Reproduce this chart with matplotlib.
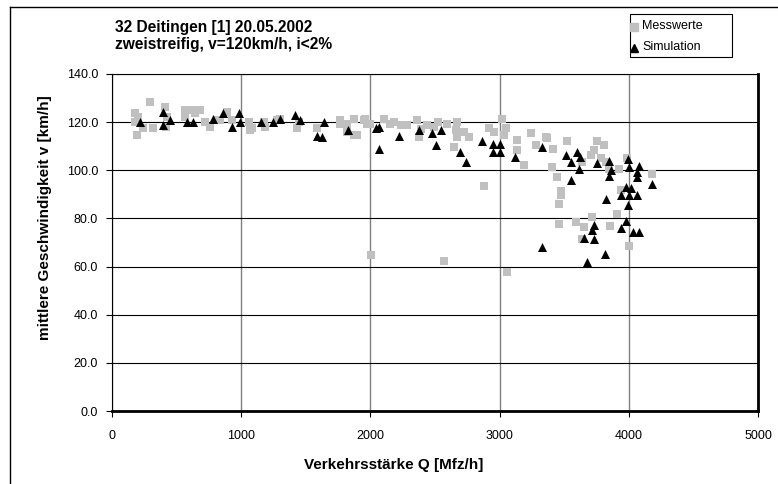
import matplotlib.pyplot as plt
from matplotlib.lines import Line2D
from matplotlib.patches import Rectangle

plt.rcParams['font.family'] = ['Liberation Sans', 'DejaVu Sans']

# Messwerte (gray squares): Q [Mfz/h], v [km/h]
mess_q = [178, 178, 191, 295, 242, 320, 411, 424, 420, 200, 566, 618, 682, 566, 643,
          721, 760, 811, 837, 889, 930, 1057, 1083, 1070, 1173, 1186, 1277, 1302,
          1432, 1445, 1587, 1767, 1767, 1819, 1819, 1871, 1871, 1897, 1948, 1961,
          1977, 2000, 2103, 2155, 2180, 2233, 2284, 2362, 2375, 2388, 2440, 2491,
          2520, 2594, 2672, 2659, 2672, 2723, 2762, 2646, 2917, 2960, 3020, 3047,
          3034, 3137, 3137, 3189, 3240, 3279, 3357, 3369, 3416, 3408, 3447, 3478,
          3460, 3519, 3641, 3752, 3809, 3731, 3705, 3783, 3822, 3847, 3925, 3984,
          4183, 3938, 3460, 3589, 3653, 3718, 3907, 3855, 3641, 4002, 3473, 2005,
          2568, 3054, 2878]
mess_v = [123.6, 120.0, 114.6, 128.5, 117.5, 117.5, 126.4, 122.0, 118.0, 122.0, 125.0,
          125.0, 125.0, 122.0, 124.0, 120.0, 118.0, 120.8, 120.8, 124.3, 121.0, 120.0,
          117.4, 116.7, 120.0, 118.0, 120.8, 121.5, 117.4, 120.0, 117.4, 120.8, 119.4,
          119.4, 116.0, 121.5, 114.6, 114.6, 120.8, 121.5, 119.4, 119.4, 121.5, 119.4,
          120.0, 118.8, 118.8, 120.8, 113.9, 117.0, 119.0, 118.0, 120.0, 119.4, 120.0,
          116.7, 113.9, 116.0, 113.9, 109.7, 117.4, 116.0, 121.5, 117.4, 114.6, 112.5,
          108.3, 102.0, 115.3, 110.4, 113.9, 113.5, 109.0, 101.4, 97.2, 91.2, 86.0,
          112.0, 103.5, 112.0, 110.7, 108.3, 106.3, 105.1, 103.5, 100.7, 100.4, 104.9,
          98.6, 91.7, 77.8, 78.5, 76.4, 80.5, 81.9, 76.7, 71.3, 68.5, 89.6, 64.6,
          62.5, 57.6, 93.3]

# Simulation (black triangles)
sim_q = [217, 398, 398, 450, 584, 630, 778, 858, 928, 985, 992, 1155, 1245, 1297,
         1416, 1457, 1643, 1584, 1622, 1830, 2043, 2070, 2070, 2220, 2376, 2473,
         2550, 2504, 2695, 2740, 2866, 2951, 3002, 2951, 3002, 3120, 3328, 3512,
         3602, 3550, 3620, 3615, 3757, 3847, 3860, 3847, 3550, 3996, 4002, 4080,
         4067, 4067, 4180, 3822, 3938, 3977, 4016, 4062, 4002, 3990, 3977, 3938,
         4036, 4080, 3731, 3718, 3653, 3731, 3816, 3674, 3331]
sim_v = [120.0, 124.3, 118.8, 120.8, 119.9, 119.9, 121.2, 123.6, 118.0, 123.6, 120.0,
         120.0, 120.0, 121.3, 122.9, 120.8, 120.0, 114.4, 114.0, 116.7, 117.6, 118.0,
         109.0, 114.4, 116.7, 115.4, 116.7, 110.4, 107.7, 103.5, 112.0, 111.1, 111.1,
         107.6, 107.6, 105.5, 109.7, 106.5, 107.4, 103.6, 105.6, 100.6, 102.9, 103.8,
         100.0, 97.5, 96.1, 104.5, 101.4, 101.6, 99.3, 97.2, 94.5, 88.2, 89.9, 93.0,
         92.6, 89.9, 89.9, 85.5, 78.8, 76.0, 74.3, 74.3, 77.4, 75.0, 71.8, 71.3,
         65.3, 62.1, 68.0]

x_ticks = [0, 1000, 2000, 3000, 4000, 5000]
y_ticks = [0, 20, 40, 60, 80, 100, 120, 140]

W, H = 778, 484
fig = plt.figure(figsize=(W / 100, H / 100), dpi=100)
ax = fig.add_axes([112 / W, 1 - 411 / H, (758 - 112) / W, (411 - 74) / H])

ax.scatter(mess_q, mess_v, marker='s', s=36, color='#c0c0c0', linewidths=0,
           zorder=3)
ax.scatter(sim_q, sim_v, marker='^', s=42, color='black', linewidths=0,
           zorder=4)

ax.set_xlim(0, 5000)
ax.set_ylim(0, 140)
ax.set_xticks(x_ticks)
ax.set_yticks(y_ticks)
ax.set_yticklabels(['%.1f' % v for v in y_ticks])
ax.tick_params(labelsize=9, length=4, width=0.8, color='black')
ax.tick_params(axis='x', pad=10)
ax.tick_params(axis='y', pad=6)
ax.grid(axis='y', color='black', linewidth=0.8)
ax.grid(axis='x', color='#808080', linewidth=1.0)
ax.set_axisbelow(True)
for side in ['top', 'left']:
    ax.spines[side].set_linewidth(0.8)
for side in ['right', 'bottom']:
    ax.spines[side].set_linewidth(2.0)

# axis titles, centred like the Excel chart
fig.text(394 / W, 1 - 465 / H, 'Verkehrsstärke Q [Mfz/h]', fontsize=11,
         fontweight='bold', ha='center', va='center')
fig.text(45 / W, 1 - 218 / H, 'mittlere Geschwindigkeit v [km/h]', fontsize=11,
         fontweight='bold', ha='center', va='center', rotation=90)

fig.text(115 / W, 1 - 32 / H, '32 Deitingen [1] 20.05.2002', fontsize=11.2,
         fontweight='bold', va='baseline')
fig.text(115 / W, 1 - 48.5 / H, 'zweistreifig, v=120km/h, i<2%', fontsize=11.2,
         fontweight='bold', va='baseline')

# legend box
fig.add_artist(Rectangle((630 / W, 1 - 57 / H), 102 / W, 43 / H, facecolor='white',
                         edgecolor='black', linewidth=0.8,
                         transform=fig.transFigure))
fig.add_artist(Line2D([634 / W], [1 - 27 / H], marker='s', markersize=5.5,
                      color='#c0c0c0', linestyle='none', transform=fig.transFigure))
fig.add_artist(Line2D([634 / W], [1 - 48 / H], marker='^', markersize=6,
                      color='black', linestyle='none', transform=fig.transFigure))
fig.text(642 / W, 1 - 26 / H, 'Messwerte', fontsize=9, va='center')
fig.text(642 / W, 1 - 47 / H, 'Simulation', fontsize=9, va='center')

# outer chart frame
fig.add_artist(Line2D([10 / W, 10 / W], [0, 1 - 7 / H], color='black',
                      linewidth=1.0, transform=fig.transFigure))
fig.add_artist(Line2D([10 / W, 1], [1 - 7 / H, 1 - 7 / H], color='black',
                      linewidth=1.0, transform=fig.transFigure))

fig.savefig('out.png', dpi=100)
